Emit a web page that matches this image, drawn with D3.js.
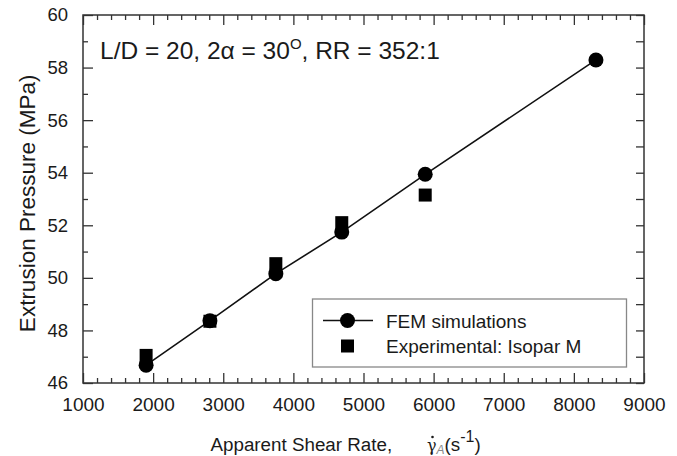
<!DOCTYPE html>
<html>
<head>
<meta charset="utf-8">
<script src="https://cdn.jsdelivr.net/npm/d3@7"></script>
<style>
  html, body { margin: 0; padding: 0; background: #fff; }
  svg { display: block; font-family: "Liberation Sans", Arial, sans-serif; }
</style>
</head>
<body>
<script>
// ---- data ----
const femRate = [1900, 2810, 3750, 4690, 5880, 8315];
const femPressure = [46.68, 48.37, 50.16, 51.74, 53.94, 58.29];
const expRate = [1900, 2810, 3750, 4690, 5880];
const expPressure = [47.05, 48.35, 50.54, 52.1, 53.15];
const xMajorTicks = [1000, 2000, 3000, 4000, 5000, 6000, 7000, 8000, 9000];
const yMajorTicks = [46, 48, 50, 52, 54, 56, 58, 60];
const seriesNames = ["FEM simulations", "Experimental: Isopar M"];

const W = 677, H = 456;
const L = 83, R = 644, T = 15, B = 383;

const svg = d3.select("body").append("svg").attr("width", W).attr("height", H);

const x = d3.scaleLinear().domain([1000, 9000]).range([L, R]);
const y = d3.scaleLinear().domain([46, 60]).range([B, T]);

const xMinor = d3.range(1000, 9001, 200).filter(v => v % 1000 !== 0);
const yMinor = d3.range(46, 60.01, 1).filter(v => v % 2 !== 0);

const axisColor = "#333";
function styleAxis(size) {
  return g => {
    g.select(".domain").remove();
    g.selectAll(".tick line").attr("stroke", axisColor).attr("stroke-width", 1.3);
    g.selectAll(".tick text").attr("fill", "#1a1a1a").style("font-size", size + "px")
      .style("font-family", "'Liberation Sans', Arial, sans-serif");
  };
}

// bottom
svg.append("g").attr("transform", `translate(0,${B})`)
  .call(d3.axisBottom(x).tickValues(xMajorTicks).tickSizeInner(-10).tickSizeOuter(0).tickPadding(15).tickFormat(d3.format("d")))
  .call(styleAxis(19));
svg.append("g").attr("transform", `translate(0,${B})`)
  .call(d3.axisBottom(x).tickValues(xMinor).tickSizeInner(-5).tickSizeOuter(0).tickFormat(""))
  .call(styleAxis(19));
// top
svg.append("g").attr("transform", `translate(0,${T})`)
  .call(d3.axisTop(x).tickValues(xMajorTicks).tickSizeInner(-10).tickSizeOuter(0).tickFormat(""))
  .call(styleAxis(19));
svg.append("g").attr("transform", `translate(0,${T})`)
  .call(d3.axisTop(x).tickValues(xMinor).tickSizeInner(-5).tickSizeOuter(0).tickFormat(""))
  .call(styleAxis(19));
// left
svg.append("g").attr("transform", `translate(${L},0)`)
  .call(d3.axisLeft(y).tickValues(yMajorTicks).tickSizeInner(-10).tickSizeOuter(0).tickPadding(15).tickFormat(d3.format("d")))
  .call(styleAxis(18.5));
svg.append("g").attr("transform", `translate(${L},0)`)
  .call(d3.axisLeft(y).tickValues(yMinor).tickSizeInner(-5).tickSizeOuter(0).tickFormat(""))
  .call(styleAxis(18.5));
// right
svg.append("g").attr("transform", `translate(${R},0)`)
  .call(d3.axisRight(y).tickValues(yMajorTicks).tickSizeInner(-8).tickSizeOuter(0).tickFormat(""))
  .call(styleAxis(18.5));
svg.append("g").attr("transform", `translate(${R},0)`)
  .call(d3.axisRight(y).tickValues(yMinor).tickSizeInner(-8).tickSizeOuter(0).tickFormat(""))
  .call(styleAxis(18.5));

// frame
svg.append("rect").attr("x", L).attr("y", T).attr("width", R - L).attr("height", B - T)
  .attr("fill", "none").attr("stroke", axisColor).attr("stroke-width", 1.5);

// FEM line
const fem = femRate.map((r, i) => ({ r, p: femPressure[i] }));
const exp = expRate.map((r, i) => ({ r, p: expPressure[i] }));

svg.append("path").datum(fem)
  .attr("d", d3.line().x(d => x(d.r)).y(d => y(d.p)))
  .attr("fill", "none").attr("stroke", "#111").attr("stroke-width", 1.6);

const sq = 13;
svg.append("g").selectAll("rect").data(exp).join("rect")
  .attr("x", d => x(d.r) - sq / 2).attr("y", d => y(d.p) - sq / 2)
  .attr("width", sq).attr("height", sq).attr("fill", "#000");

svg.append("g").selectAll("circle").data(fem).join("circle")
  .attr("cx", d => x(d.r)).attr("cy", d => y(d.p)).attr("r", 7.5).attr("fill", "#000");

// annotation
const ann = svg.append("text").attr("x", 100).attr("y", 58.5)
  .style("font-size", "24.5px").attr("fill", "#1a1a1a");
ann.append("tspan").text("L/D = 20, 2α = 30");
ann.append("tspan").attr("dy", -10).style("font-size", "15px").text("O");
ann.append("tspan").attr("dy", 10).text(", RR = 352:1");

// legend
svg.append("rect").attr("x", 312.5).attr("y", 299).attr("width", 314).attr("height", 68)
  .attr("fill", "#fff").attr("stroke", "#888").attr("stroke-width", 1.3);
svg.append("line").attr("x1", 323).attr("x2", 373).attr("y1", 320.5).attr("y2", 320.5)
  .attr("stroke", "#111").attr("stroke-width", 1.6);
svg.append("circle").attr("cx", 347.5).attr("cy", 320.5).attr("r", 7.5).attr("fill", "#000");
svg.append("rect").attr("x", 347.5 - sq / 2).attr("y", 346 - sq / 2).attr("width", sq).attr("height", sq).attr("fill", "#000");
svg.append("text").attr("x", 386).attr("y", 327.5).style("font-size", "19px").attr("fill", "#1a1a1a").text(seriesNames[0]);
svg.append("text").attr("x", 386).attr("y", 352.5).style("font-size", "19px").attr("fill", "#1a1a1a").text(seriesNames[1]);

// y label
svg.append("text")
  .attr("transform", `translate(35,${(66.7 + 340) / 2}) rotate(-90)`)
  .attr("text-anchor", "middle").style("font-size", "22.5px").attr("fill", "#1a1a1a")
  .text("Extrusion Pressure (MPa)");

// x label
svg.append("text").attr("x", 210.5).attr("y", 450.5).style("font-size", "18.8px").attr("fill", "#1a1a1a")
  .text("Apparent Shear Rate,");
const xl = svg.append("text").attr("x", 427).attr("y", 450.5).style("font-size", "18.8px").attr("fill", "#1a1a1a");
xl.append("tspan").attr("font-family", "'DejaVu Serif', serif").style("font-size", "16px").text("\u03B3");
xl.append("tspan").attr("dy", 3).style("font-size", "12px").style("font-style", "italic").attr("fill", "#888").text("A");
xl.append("tspan").attr("dy", -3).text("(s");
xl.append("tspan").attr("dy", -9).style("font-size", "16px").text("-1");
xl.append("tspan").attr("dy", 9).text(")");
// dot above gamma
svg.append("circle").attr("cx", 432.5).attr("cy", 437).attr("r", 1.3).attr("fill", "#1a1a1a");
</script>
</body>
</html>
